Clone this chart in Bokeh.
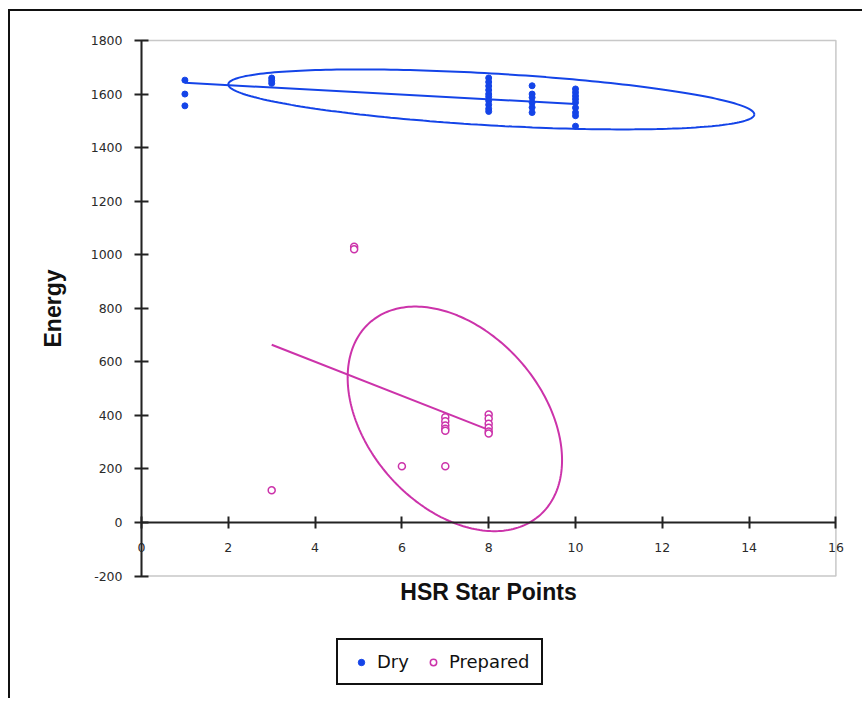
import numpy as np
from bokeh.plotting import figure
from bokeh.models import Range1d, FixedTicker, Legend, LegendItem, LinearAxis
from bokeh.embed import file_html
from bokeh.resources import INLINE

# ---- data ----
dry_x = [1, 1, 1,
         3, 3, 3,
         8, 8, 8, 8, 8, 8, 8, 8, 8, 8,
         9, 9, 9, 9, 9, 9,
         10, 10, 10, 10, 10, 10, 10, 10, 10]
dry_y = [1652, 1600, 1556,
         1660, 1650, 1640,
         1660, 1645, 1630, 1615, 1600, 1590, 1575, 1560, 1545, 1535,
         1631, 1600, 1587, 1568, 1550, 1531,
         1619, 1606, 1593, 1581, 1568, 1549, 1531, 1519, 1480]

prep_x = [3, 4.9, 4.9, 6, 7,
          7, 7, 7, 7, 7,
          8, 8, 8, 8, 8, 8]
prep_y = [120, 1030, 1020, 210, 210,
          393, 378, 362, 350, 343,
          403, 388, 369, 354, 340, 332]

# trend lines (end points)
dry_fit_x = [1, 10]
dry_fit_y = [1642, 1563]
prep_fit_x = [3, 8]
prep_fit_y = [664, 346]

# confidence ellipses: centre x, centre y, x half-extent, y coupling, y half-extent
dry_ell = (8.06, 1580, 6.06, -56, 97)
prep_ell = (7.22, 387, 2.47, -154, 390)

# axis extents and ticks
x_min, x_max = 0, 16
y_min, y_max = -200, 1800
x_ticks = [0, 2, 4, 6, 8, 10, 12, 14, 16]
y_ticks = [-200, 0, 200, 400, 600, 800, 1000, 1200, 1400, 1600, 1800]
y_tick_labels = {-200: "-200"}

BLUE = "#1444e8"
MAGENTA = "#cc33aa"

# ---- layout: the frame covers the whole canvas; axes are placed at x=0 / y=0 ----
W, H = 854, 689
px_per_x = 43.4          # screen pixels per x unit
px_per_y = 482 / 1800    # screen pixels per y unit
x0_px, y0_px = 131, 511  # canvas position of data (0, 0)
xr = Range1d(-x0_px / px_per_x, (W - x0_px) / px_per_x)
yr = Range1d((y0_px - H) / px_per_y, y0_px / px_per_y)


def ellipse(cx, cy, ax, c, b):
    t = np.linspace(0, 2 * np.pi, 241)
    return cx + ax * np.cos(t), cy + c * np.cos(t) + b * np.sin(t)


p = figure(width=W, height=H, x_range=xr, y_range=yr,
           output_backend="svg", toolbar_location=None,
           x_axis_location=None, y_axis_location=None,
           min_border=0)
p.styles = {"margin-left": "8px", "margin-top": "9px",
            "border-left": "2px solid #111", "border-top": "2px solid #111"}
p.grid.visible = False
p.outline_line_color = None
p.background_fill_color = "white"
p.border_fill_color = "white"

# plot-area border
p.quad(left=[x_min], right=[x_max], bottom=[y_min], top=[y_max],
       fill_color=None, line_color="#c8c8c8", line_width=1.5)

# ellipses
ex, ey = ellipse(*dry_ell)
p.line(ex, ey, line_color=BLUE, line_width=2)
ex, ey = ellipse(*prep_ell)
p.line(ex, ey, line_color=MAGENTA, line_width=2)

# trend lines
p.line(dry_fit_x, dry_fit_y, line_color=BLUE, line_width=2)
p.line(prep_fit_x, prep_fit_y, line_color=MAGENTA, line_width=2)

# points
r_dry = p.scatter(dry_x, dry_y, size=6, fill_color=BLUE, line_color=BLUE)
r_prep = p.scatter(prep_x, prep_y, size=7, fill_color="white",
                   line_color=MAGENTA, line_width=1.5)

# axes
xaxis = LinearAxis(fixed_location=0, bounds=(x_min, x_max),
                   ticker=FixedTicker(ticks=x_ticks),
                   axis_label="HSR Star Points")
yaxis = LinearAxis(fixed_location=0, bounds=(y_min, y_max),
                   ticker=FixedTicker(ticks=y_ticks),
                   major_label_overrides=y_tick_labels,
                   axis_label="Energy")
for ax in (xaxis, yaxis):
    ax.axis_line_color = "#222"
    ax.axis_line_width = 2
    ax.major_tick_line_color = "#222"
    ax.major_tick_line_width = 2
    ax.minor_tick_line_color = None
    ax.major_label_text_font = "DejaVu Sans"
    ax.major_label_text_font_size = "12.5px"
    ax.major_label_text_color = "#2a2a2a"
    ax.axis_label_text_font = "Liberation Sans"
    ax.axis_label_text_font_style = "bold"
    ax.axis_label_text_font_size = "23px"
    ax.axis_label_text_color = "#111"
xaxis.major_tick_in = 6
xaxis.major_tick_out = 6
yaxis.major_tick_in = 7
yaxis.major_tick_out = 7
xaxis.major_label_standoff = 14
yaxis.major_label_standoff = 12
xaxis.axis_label_standoff = 24
yaxis.axis_label_standoff = 22
p.add_layout(xaxis, "below")
p.add_layout(yaxis, "left")

legend = Legend(items=[LegendItem(label="Dry", renderers=[r_dry]),
                       LegendItem(label="Prepared", renderers=[r_prep])],
                orientation="horizontal", location=(326, 15),
                padding=11, spacing=12, label_standoff=4,
                glyph_width=24, glyph_height=16, margin=0,
                border_line_color="#111", border_line_width=2,
                border_line_alpha=1,
                label_text_font="DejaVu Sans", label_text_font_size="18px",
                label_text_color="#111", background_fill_alpha=1)
p.add_layout(legend)

open("out.html", "w").write(file_html(p, INLINE))
